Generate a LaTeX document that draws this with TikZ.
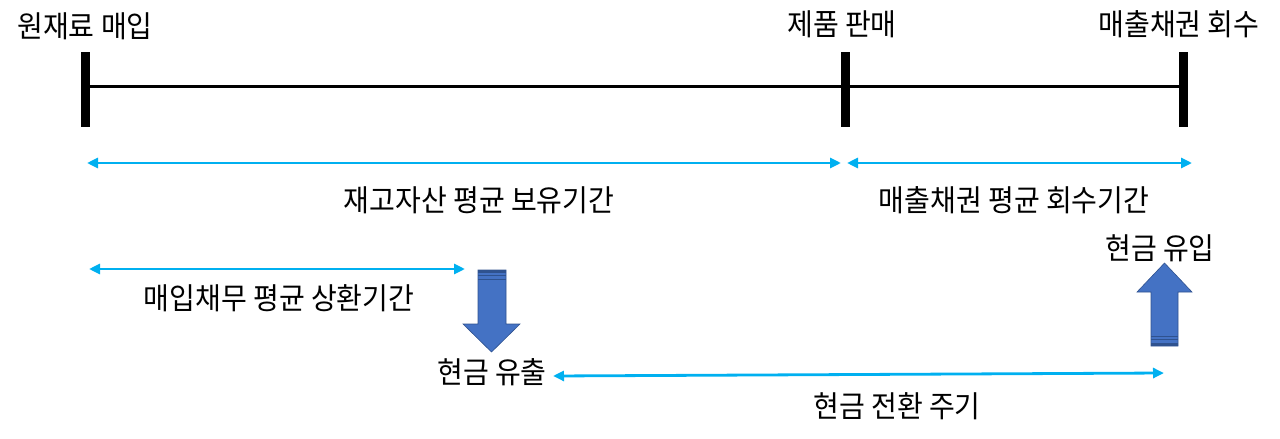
\documentclass[tikz,border=0pt]{standalone}
\usepackage{fontspec}
\setmainfont[FakeStretch=0.935]{Noto Sans CJK KR}
\usetikzlibrary{arrows.meta}
\definecolor{cyanline}{HTML}{00B0F0}
\definecolor{blockfill}{HTML}{4472C4}
\definecolor{blockedge}{HTML}{2F528F}
\tikzset{
  lbl/.style={inner sep=0pt, font=\fontsize{30}{32}\selectfont, anchor=center},
  tickmark/.style={fill=black, draw=black, line width=0.5pt},
  timeline/.style={line width=3pt, black},
  span/.style={cyanline, line width=2.8pt, {Triangle[length=11pt,width=10pt]}-{Triangle[length=11pt,width=10pt]}},
  blockarrow/.style={fill=blockfill, draw=blockedge, line width=0.6pt},
  stripe/.style={blockedge, line width=1pt}
}
\begin{document}
\begin{tikzpicture}[x=1pt,y=-1pt]
\useasboundingbox (0,0) rectangle (1280,439);
% timeline
\coordinate (p1) at (85,86);
\coordinate (p2) at (845,86);
\coordinate (p3) at (1183,86);
\draw[timeline] (p1) -- (p3);
\fill[tickmark] (81,52) rectangle (89,126);
\fill[tickmark] (841,52) rectangle (849,126);
\fill[tickmark] (1179,52) rectangle (1187,126);
% labels
\node[lbl] (t1) at (85,26) {원재료 매입};
\node[lbl] (t2) at (842,24) {제품 판매};
\node[lbl] (t3) at (1179,24) {매출채권 회수};
\node[lbl] (t4) at (479,200) {재고자산 평균 보유기간};
\node[lbl] (t5) at (1014,200) {매출채권 평균 회수기간};
\node[lbl] (t6) at (1160,248) {현금 유입};
\node[lbl] (t7) at (279,298) {매입채무 평균 상환기간};
\node[lbl] (t8) at (492,372) {현금 유출};
\node[lbl] (t9) at (897,406) {현금 전환 주기};
% span arrows
\coordinate (a1s) at (87,163);
\coordinate (a1e) at (841,163);
\coordinate (a2s) at (847,163);
\coordinate (a2e) at (1192,163);
\coordinate (a3s) at (89,269);
\coordinate (a3e) at (465,269);
\coordinate (a4s) at (553,376);
\coordinate (a4e) at (1164,373);
\draw[span] (a1s) -- (a1e);
\draw[span] (a2s) -- (a2e);
\draw[span] (a3s) -- (a3e);
\draw[span] (a4s) -- (a4e);
% down block arrow (cash out)
\draw[blockarrow] (478,270) -- (506,270) -- (506,324) -- (520,324) -- (491.5,352) -- (463,324) -- (478,324) -- cycle;
\fill[blockedge] (478,270) rectangle (506,272.5);
\draw[stripe] (478,275.5) -- (506,275.5);
\draw[stripe] (478,279) -- (506,279);
% up block arrow (cash in)
\draw[blockarrow] (1151,346) -- (1178,346) -- (1178,292) -- (1192,292) -- (1164.5,263) -- (1137,292) -- (1151,292) -- cycle;
\fill[blockedge] (1151,342.5) rectangle (1178,346);
\draw[stripe] (1151,339.5) -- (1178,339.5);
\draw[stripe] (1151,336.5) -- (1178,336.5);
\end{tikzpicture}
\end{document}
